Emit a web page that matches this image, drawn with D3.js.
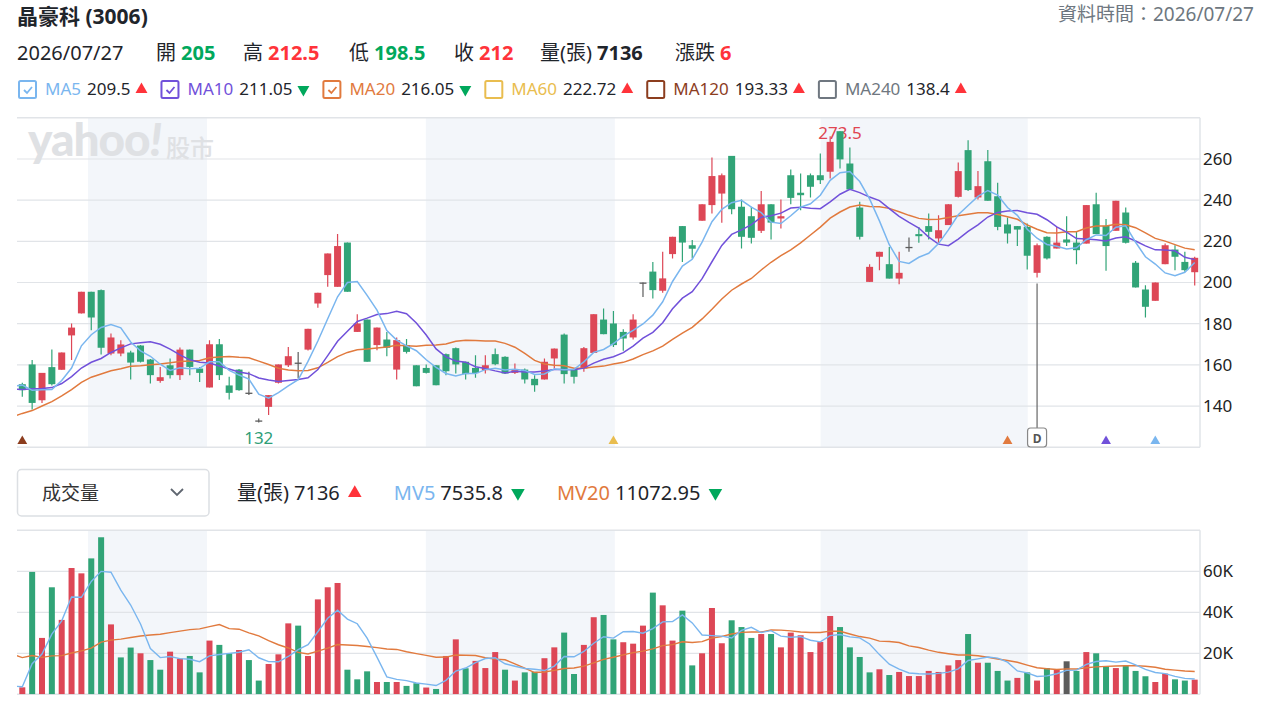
<!DOCTYPE html>
<html>
<head>
<meta charset="utf-8">
<script src="https://cdn.jsdelivr.net/npm/d3@7"></script>
<style>
  body { margin: 0; background: #fff; }
  svg text { font-family: "Noto Sans", "Noto Sans CJK TC", sans-serif; }
</style>
</head>
<body>
<svg id="chart" width="1272" height="706"></svg>
<script>
// ---- data ----
var opens = [150.6,160.2,142.8,158.9,157.6,174.3,185.0,195.5,196.3,165.5,
  165.5,166.0,169.4,162.6,152.2,159.8,155.0,167.4,158.2,149.0,
  170.0,150.0,157.7,146.5,133.0,139.6,151.3,159.8,161.1,167.4,
  189.8,203.6,197.9,219.4,176.0,182.0,169.6,172.3,157.7,169.6,
  159.8,158.5,159.8,165.2,168.1,161.5,158.5,157.4,165.2,163.9,
  156.1,157.7,153.2,152.9,163.1,174.7,157.7,158.2,165.8,182.0,
  180.1,176.0,173.3,200.0,205.3,196.0,213.8,227.4,218.1,230.0,
  237.6,243.2,261.5,236.8,232.2,225.1,238.0,231.1,252.1,243.6,
  252.1,252.1,253.8,273.5,257.8,236.4,200.3,212.5,208.9,201.9,
  217.3,223.5,227.4,221.4,227.9,241.6,264.3,241.3,258.9,241.9,
  228.2,227.4,227.0,204.7,222.2,216.5,220.9,219.4,218.9,238.0,
  227.5,225.1,234.0,209.6,196.6,191.1,208.9,216.0,210.0,205.0];
var highs = [151.3,162.3,156.1,167.4,166.0,180.1,195.5,195.5,196.6,175.2,
  172.0,166.8,169.7,162.9,158.9,163.1,168.4,167.4,159.0,172.0,
  172.6,154.2,158.0,156.6,134.0,145.3,160.2,168.7,166.3,177.5,
  195.0,214.1,223.5,219.4,184.6,182.0,178.1,176.0,173.3,172.6,
  159.8,160.2,159.8,165.5,168.4,161.5,164.7,164.7,167.9,164.2,
  160.7,158.2,155.0,163.1,167.9,175.2,157.7,168.7,184.6,187.4,
  186.1,177.3,184.6,200.0,210.0,214.9,222.2,227.4,220.6,238.0,
  260.7,253.0,261.5,240.3,236.8,244.4,238.0,240.3,254.9,253.0,
  253.0,262.7,271.0,273.5,265.6,239.2,208.9,214.9,217.3,214.9,
  221.9,227.0,233.5,232.7,238.0,258.3,269.1,254.2,264.3,248.4,
  231.6,227.4,228.7,218.9,222.5,227.0,232.2,224.6,237.6,243.6,
  230.8,239.7,236.4,210.5,198.7,200.0,218.9,218.1,214.9,212.5];
var lows = [144.5,138.3,141.5,150.0,157.6,162.3,185.0,176.8,165.0,164.7,
  164.2,152.9,161.1,150.9,151.3,153.4,152.6,155.0,151.7,149.0,
  152.6,143.2,147.4,145.3,132.0,135.6,150.9,159.0,153.4,167.0,
  187.7,197.9,197.9,195.5,176.0,161.5,167.1,164.2,152.9,165.5,
  149.6,155.8,150.1,155.0,155.8,152.9,153.7,155.8,159.8,155.5,
  155.5,150.9,146.9,152.9,158.2,150.9,150.9,156.6,165.8,174.9,
  168.7,166.8,172.3,193.0,192.2,195.0,211.7,210.0,211.7,230.0,
  233.5,229.0,233.2,216.5,218.9,224.1,220.9,226.2,238.0,235.1,
  241.3,247.8,250.5,255.4,244.9,220.9,200.3,206.0,201.9,199.2,
  214.9,219.3,220.9,219.3,227.9,241.3,244.4,240.3,239.7,225.4,
  218.9,217.7,206.3,202.4,211.2,216.5,217.7,208.9,218.9,223.5,
  205.7,225.1,218.9,197.6,183.0,191.1,208.9,206.0,205.2,198.5];
var closes = [147.7,141.5,156.1,150.6,166.0,178.1,195.5,183.0,168.3,173.3,
  169.9,161.1,161.5,155.0,154.0,155.0,167.4,159.0,156.1,170.0,
  155.0,146.4,147.7,146.5,133.0,145.3,160.2,164.2,161.1,177.5,
  195.0,214.1,217.7,195.5,180.1,161.5,178.1,168.3,172.0,166.3,
  149.6,156.1,150.1,156.9,160.2,155.5,156.0,159.8,160.3,155.8,
  157.7,152.9,150.1,161.5,167.9,155.5,154.2,168.1,184.6,174.9,
  169.6,172.8,182.0,200.0,196.3,202.0,222.2,219.4,216.4,238.0,
  251.7,252.1,235.6,222.2,221.7,238.0,229.1,232.2,241.1,242.4,
  246.5,249.7,268.3,259.8,245.2,222.2,207.6,214.9,201.9,204.7,
  217.3,222.5,224.6,225.4,238.0,254.1,244.9,246.8,239.7,227.0,
  223.8,225.7,213.0,218.1,211.7,219.4,219.4,215.7,237.6,223.5,
  217.7,239.7,219.3,197.6,188.2,200.0,218.1,212.5,206.0,212.0];
var volumes = [3400,59700,27500,52200,36300,61600,59000,66300,76600,34100,
  18000,22800,20000,16700,12000,20800,17400,18700,10700,26200,
  24100,20000,21600,16700,6700,14800,19500,34600,33500,18700,
  46300,52200,54300,12000,7300,11200,6000,6000,6000,4100,
  5400,3300,2600,18700,26800,12700,16300,12800,20600,12000,
  6700,10700,11000,17600,22900,30100,9900,24100,37600,38700,
  26800,25400,24700,33500,49600,43400,26200,40800,14100,20000,
  42100,24900,36100,32800,27500,29400,29400,22900,30100,28800,
  20600,25500,38200,32800,22900,18200,10700,12200,9400,10900,
  8900,8900,11400,10900,14100,16700,29400,15400,15400,11400,
  6700,8000,10700,6700,12800,12000,16100,11400,20600,20000,
  13700,12800,14100,11400,8800,6000,10100,7300,6700,7136];
// sessions before the window, inferred from where the MA / MV lines start
var priorCloses = [114,114,112,108,110,117,126,132,137,142,150,138,155,146,146,144.5,154,155,150,144];
var priorVolumes = [38000,40000,45000,38000,34000,36000,38000,40000,18000,14000,8000,7000,6000,6000,5000,5000,3500,4000,3500,4000];

var priceTicks = [140, 160, 180, 200, 220, 240, 260];
var volumeTicks = [20000, 40000, 60000];
var monthBands = [[6.67, 18.74], [40.96, 60.14], [81.03, 102.05]];  // in session index
var dividendIndex = 103;

var maNames = ["MA5", "MA10", "MA20", "MA60", "MA120", "MA240"];
var maValues = ["209.5", "211.05", "216.05", "222.72", "193.33", "138.4"];
var maDirs = ["up", "down", "down", "up", "up", "up"];
var maChecked = [true, true, true, false, false, false];

var quoteLabels = ["開", "高", "低", "收", "量(張)", "漲跌"];
var quoteValues = ["205", "212.5", "198.5", "212", "7136", "6"];
var volLegendNames = ["量(張)", "MV5", "MV20"];
var volLegendValues = ["7136", "7535.8", "11072.95"];
var volLegendDirs = ["up", "down", "down"];

// ---- style ----
var RED = "#dd4756", GREEN = "#31a477", GRAY = "#5c5c5c";
var TXT_RED = "#ff333a", TXT_GREEN = "#00a85c";
var maColors = {MA5: "#7ab6ef", MA10: "#7151da", MA20: "#e17a3e", MA60: "#e9bd4f", MA120: "#8c3d1e", MA240: "#6f7780"};
var GRID = "#e1e4e8", BAND = "#f3f6fa";

var svg = d3.select("#chart");
var plotL = 17, plotR = 1200;

var x = d3.scaleLinear().domain([0, 119]).range([22.3, 1194.7]);
var y = d3.scaleLinear().domain([120, 280]).range([447.2, 117.8]);
var yv = d3.scaleLinear().domain([0, 80000]).range([694.3, 530.3]);

var bars = closes.map(function(c, i) {
  var prev = i === 0 ? priorCloses[priorCloses.length - 1] : closes[i - 1];
  return {i: i, o: opens[i], h: highs[i], l: lows[i], c: c, v: volumes[i],
          candle: c > opens[i] ? RED : (c < opens[i] ? GREEN : GRAY),
          volCol: c > prev ? RED : (c < prev ? GREEN : GRAY)};
});

function movingAvg(prior, vals, n) {
  var all = prior.concat(vals), off = prior.length, out = [];
  for (var i = -1; i < vals.length; i++) {
    var p = i + off, s = 0;
    for (var k = p - n + 1; k <= p; k++) s += all[k];
    out.push({i: i, v: s / n});
  }
  return out;
}

// clip paths
var defs = svg.append("defs");
defs.append("clipPath").attr("id", "clipP").append("rect")
  .attr("x", plotL).attr("y", y(280)).attr("width", plotR - plotL).attr("height", y(120) - y(280));
defs.append("clipPath").attr("id", "clipV").append("rect")
  .attr("x", plotL).attr("y", yv(80000)).attr("width", plotR - plotL).attr("height", yv(0) - yv(80000));

// ---- header ----
svg.append("text").attr("x", 17).attr("y", 24).attr("font-size", 21).attr("font-weight", 700)
  .attr("fill", "#1f252b").text("晶豪科 (3006)");
svg.append("text").attr("x", 1254).attr("y", 21).attr("text-anchor", "end").attr("font-size", 19)
  .attr("fill", "#6e7780").text("資料時間：2026/07/27");

var row2 = svg.append("g").attr("font-size", 20);
row2.append("text").attr("x", 17).attr("y", 60).attr("fill", "#1f252b").text("2026/07/27");
var quoteX = [156, 243, 349, 454, 540, 675];
var quoteCol = [TXT_GREEN, TXT_RED, TXT_GREEN, TXT_RED, "#1f252b", TXT_RED];
quoteLabels.forEach(function(lab, k) {
  var t = row2.append("text").attr("x", quoteX[k]).attr("y", 60).attr("fill", "#1f252b").text(lab);
  var w = t.node().getComputedTextLength();
  row2.append("text").attr("x", quoteX[k] + w + 5).attr("y", 60).attr("font-weight", 700)
    .attr("fill", quoteCol[k]).text(quoteValues[k]);
});

function arrow(g, cx, cy, dir, size) {
  g.append("path")
    .attr("d", d3.symbol(d3.symbolTriangle, size || 62)())
    .attr("transform", "translate(" + cx + "," + cy + ")" + (dir === "down" ? " rotate(180)" : ""))
    .attr("fill", dir === "down" ? TXT_GREEN : TXT_RED);
}

// MA legend
var leg = svg.append("g").attr("font-size", 17);
var lx = 18;
maNames.forEach(function(name, k) {
  var col = maColors[name];
  leg.append("rect").attr("x", lx + 1).attr("y", 81).attr("width", 17).attr("height", 17).attr("rx", 1.5)
    .attr("fill", "#fff").attr("stroke", col).attr("stroke-width", 2);
  if (maChecked[k]) {
    leg.append("path").attr("d", "M" + (lx + 6) + ",90 l3,3 l5,-6")
      .attr("fill", "none").attr("stroke", col).attr("stroke-width", 1.8);
  }
  var t1 = leg.append("text").attr("x", lx + 27).attr("y", 95).attr("fill", col).text(name);
  var t1x = lx + 27 + t1.node().getComputedTextLength() + 6;
  var t2 = leg.append("text").attr("x", t1x).attr("y", 95).attr("fill", "#1f252b").text(maValues[k]);
  var ax = t1x + t2.node().getComputedTextLength() + 11;
  arrow(leg, ax, 89.5, maDirs[k]);
  lx = ax + 19;
});

// ---- volume legend / selector ----
svg.append("rect").attr("x", 17.5).attr("y", 469.5).attr("width", 191.5).attr("height", 46.5).attr("rx", 4)
  .attr("fill", "#fff").attr("stroke", "#dcdfe3").attr("stroke-width", 1.5);
svg.append("text").attr("x", 42).attr("y", 500).attr("font-size", 19).attr("fill", "#333").text("成交量");
svg.append("path").attr("d", "M171,489 l6,6 l6,-6").attr("fill", "none").attr("stroke", "#5f6670").attr("stroke-width", 1.8);

var vleg = svg.append("g").attr("font-size", 20);
var vx = 237;
var vCols = ["#1f252b", maColors.MA5, maColors.MA20];
volLegendNames.forEach(function(name, k) {
  var t1 = vleg.append("text").attr("x", vx).attr("y", 500).attr("fill", vCols[k]).text(name);
  var t2x = vx + t1.node().getComputedTextLength() + 5;
  var t2 = vleg.append("text").attr("x", t2x).attr("y", 500).attr("fill", "#1f252b").text(volLegendValues[k]);
  var ax = t2x + t2.node().getComputedTextLength() + 15;
  arrow(vleg, ax, 493, volLegendDirs[k], 80);
  vx = ax + 39;
});

// ---- panes: bands, grid, axes ----
function pane(yScale, ticks, top, bottom, fmt) {
  var g = svg.append("g");
  monthBands.forEach(function(b) {
    g.append("rect").attr("x", x(b[0])).attr("y", top).attr("width", x(b[1]) - x(b[0]))
      .attr("height", bottom - top).attr("fill", BAND);
  });
  g.selectAll(".grid").data(ticks).join("line")
    .attr("x1", plotL).attr("x2", plotR)
    .attr("y1", function(d) { return yScale(d); }).attr("y2", function(d) { return yScale(d); })
    .attr("stroke", GRID).attr("stroke-width", 1.2);
  [top, bottom].forEach(function(yy) {
    g.append("line").attr("x1", plotL).attr("x2", plotR).attr("y1", yy).attr("y2", yy)
      .attr("stroke", GRID).attr("stroke-width", 1.5);
  });
  g.append("line").attr("x1", plotR).attr("x2", plotR).attr("y1", top).attr("y2", bottom)
    .attr("stroke", GRID).attr("stroke-width", 1.5);
  var ax = svg.append("g").attr("transform", "translate(" + plotR + ",0)")
    .call(d3.axisRight(yScale).tickValues(ticks).tickSize(0).tickPadding(3).tickFormat(fmt));
  ax.select(".domain").remove();
  ax.selectAll("text").attr("font-size", 17).attr("fill", "#222")
    .style("font-family", "'Noto Sans', sans-serif");
}
pane(y, priceTicks, y(280), y(120), function(d) { return d; });
pane(yv, volumeTicks, yv(80000), yv(0), function(d) { return (d / 1000) + "K"; });

// watermark
var wm = svg.append("text").attr("x", 28).attr("y", 156).attr("fill", "#dfe1e4");
wm.append("tspan").attr("font-size", 46).attr("font-weight", 900).style("font-family", "Lato, sans-serif")
  .attr("letter-spacing", -1).text("yahoo");
wm.append("tspan").attr("font-size", 46).attr("font-weight", 900).attr("font-style", "italic")
  .style("font-family", "Lato, sans-serif").text("!");
svg.append("text").attr("x", 166).attr("y", 157).attr("font-size", 24).attr("font-weight", 500)
  .attr("fill", "#dfe1e4").text("股市");

// ---- price pane ----
var pg = svg.append("g").attr("clip-path", "url(#clipP)");

// extreme labels (drawn under the candles)
var hiIdx = d3.maxIndex(highs), loIdx = d3.minIndex(lows);
pg.append("text").attr("x", x(hiIdx)).attr("y", y(highs[hiIdx]) + 8).attr("text-anchor", "middle")
  .attr("font-size", 17).attr("fill", "#e04551").text(highs[hiIdx]);
pg.append("text").attr("x", x(loIdx)).attr("y", y(lows[loIdx]) + 22).attr("text-anchor", "middle")
  .attr("font-size", 17).attr("fill", "#2f9e78").text(lows[loIdx]);

var candle = pg.selectAll(".candle").data(bars).join("g");
candle.append("line")
  .attr("x1", function(d) { return x(d.i); }).attr("x2", function(d) { return x(d.i); })
  .attr("y1", function(d) { return y(d.h); }).attr("y2", function(d) { return y(d.l); })
  .attr("stroke", function(d) { return d.candle; }).attr("stroke-width", 1.2);
candle.append("rect")
  .attr("x", function(d) { return x(d.i) - 3.5; })
  .attr("y", function(d) { return y(Math.max(d.o, d.c)); })
  .attr("width", 7)
  .attr("height", function(d) { return Math.max(1.3, Math.abs(y(d.o) - y(d.c))); })
  .attr("fill", function(d) { return d.candle; });

var line = d3.line().x(function(d) { return x(d.i); }).y(function(d) { return y(d.v); });
[["MA20", 20], ["MA10", 10], ["MA5", 5]].forEach(function(m) {
  pg.append("path").datum(movingAvg(priorCloses, closes, m[1]))
    .attr("d", line).attr("fill", "none").attr("stroke", maColors[m[0]]).attr("stroke-width", 1.5);
});

// MA period start markers
[["MA120", 120], ["MA60", 60], ["MA20", 20], ["MA10", 10], ["MA5", 5]].forEach(function(m) {
  svg.append("path").attr("d", d3.symbol(d3.symbolTriangle, 42)())
    .attr("transform", "translate(" + x(closes.length - m[1]) + "," + (y(120) - 6) + ")")
    .attr("fill", maColors[m[0]]);
});

// dividend marker
var dx = x(dividendIndex);
svg.append("line").attr("x1", dx).attr("x2", dx)
  .attr("y1", y(lows[dividendIndex]) + 6).attr("y2", 428)
  .attr("stroke", "#666").attr("stroke-width", 1.2);
svg.append("rect").attr("x", dx - 9.5).attr("y", 428).attr("width", 19).attr("height", 19).attr("rx", 3)
  .attr("fill", "#fff").attr("stroke", "#888").attr("stroke-width", 1.2);
svg.append("text").attr("x", dx).attr("y", 442.5).attr("text-anchor", "middle").attr("font-size", 12)
  .attr("font-weight", 700).attr("fill", "#555").text("D");

// ---- volume pane ----
var vg = svg.append("g").attr("clip-path", "url(#clipV)");
vg.selectAll(".vol").data(bars).join("rect")
  .attr("x", function(d) { return x(d.i) - 3; })
  .attr("y", function(d) { return yv(d.v); })
  .attr("width", 6)
  .attr("height", function(d) { return yv(0) - yv(d.v); })
  .attr("fill", function(d) { return d.volCol; });

var vline = d3.line().x(function(d) { return x(d.i); }).y(function(d) { return yv(d.v); });
[["MA20", 20], ["MA5", 5]].forEach(function(m) {
  vg.append("path").datum(movingAvg(priorVolumes, volumes, m[1]))
    .attr("d", vline).attr("fill", "none").attr("stroke", maColors[m[0]]).attr("stroke-width", 1.4);
});
</script>
</body>
</html>
